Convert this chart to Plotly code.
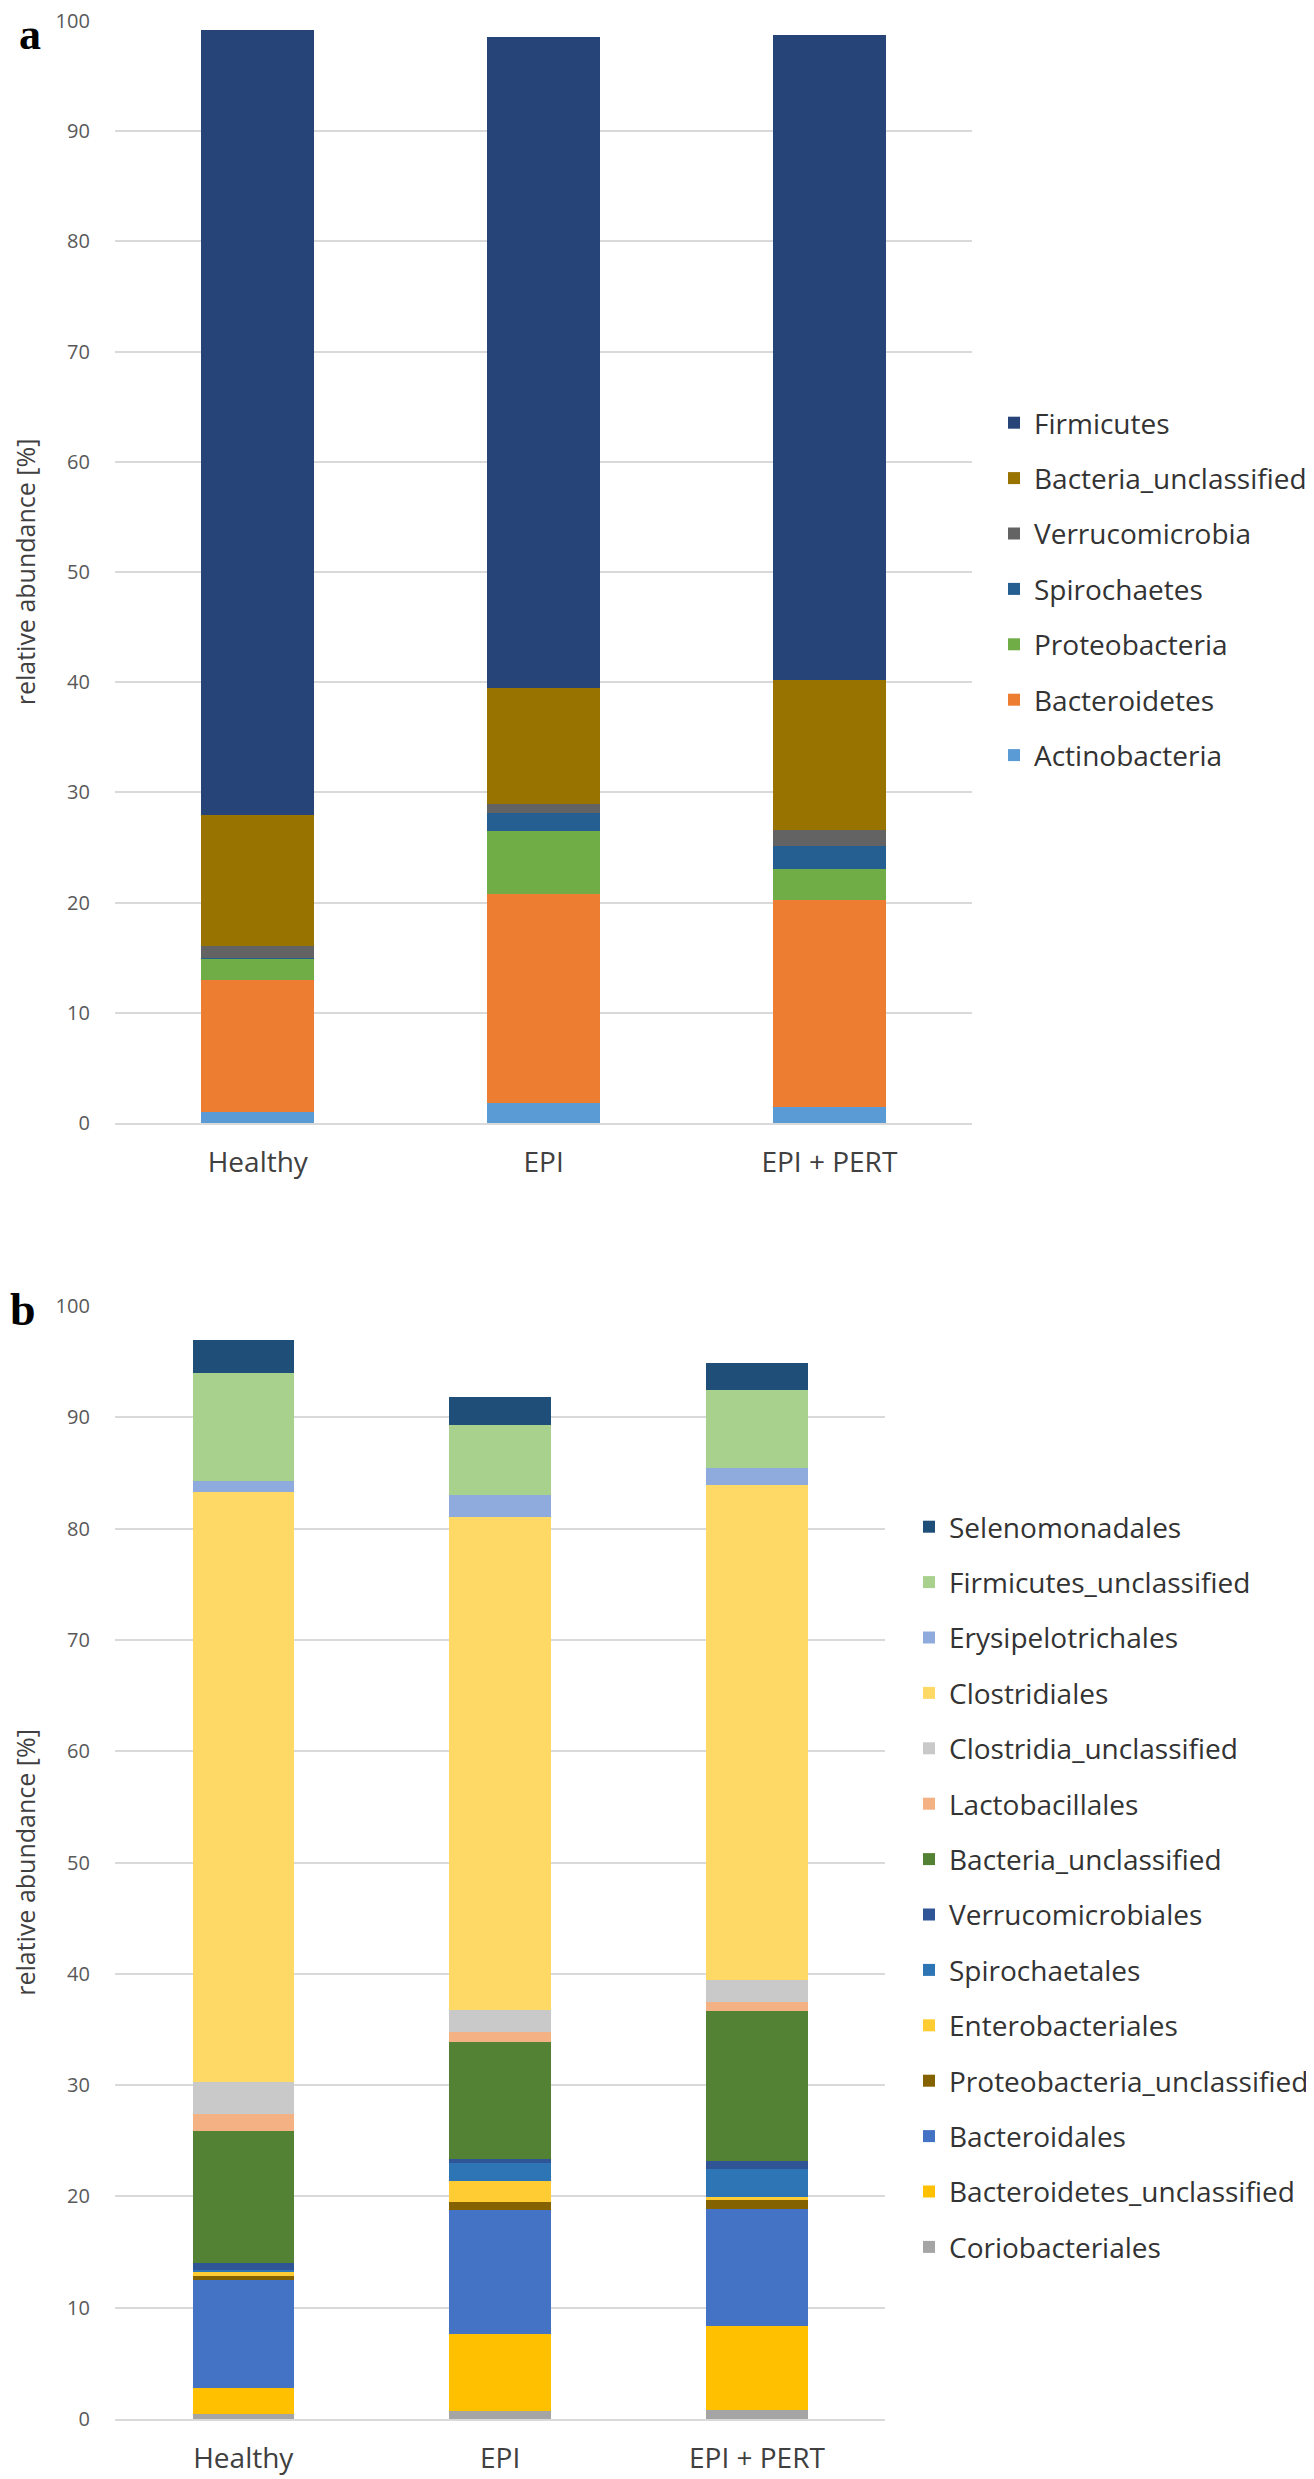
import plotly.graph_objects as go
from plotly.subplots import make_subplots

# --- data (relative abundance, %) ---
groups = ["Healthy", "EPI", "EPI + PERT"]

# panel a: phylum level, stacked bottom -> top
phylum_names = ["Actinobacteria", "Bacteroidetes", "Proteobacteria", "Spirochaetes",
                "Verrucomicrobia", "Bacteria_unclassified", "Firmicutes"]
actinobacteria = [0.99, 1.82, 1.46]
bacteroidetes = [11.95, 18.99, 18.78]
proteobacteria = [1.97, 5.72, 2.79]
spirochaetes = [0.10, 1.62, 2.15]
verrucomicrobia = [1.07, 0.81, 1.42]
bacteria_unclassified = [11.86, 10.49, 13.57]
firmicutes = [71.20, 59.10, 58.58]
phylum_colors = ["#5B9BD5", "#ED7D31", "#70AD47", "#255E91",
                 "#636363", "#997300", "#264478"]

# panel b: order level, stacked bottom -> top
order_names = ["Coriobacteriales", "Bacteroidetes_unclassified", "Bacteroidales",
               "Proteobacteria_unclassified", "Enterobacteriales", "Spirochaetales",
               "Verrucomicrobiales", "Bacteria_unclassified", "Lactobacillales",
               "Clostridia_unclassified", "Clostridiales", "Erysipelotrichales",
               "Firmicutes_unclassified", "Selenomonadales"]
coriobacteriales = [0.46, 0.70, 0.85]
bacteroidetes_unclassified = [2.37, 6.96, 7.51]
bacteroidales = [9.63, 11.12, 10.48]
proteobacteria_unclassified = [0.40, 0.76, 0.80]
enterobacteriales = [0.36, 1.86, 0.33]
spirochaetales = [0.20, 1.64, 2.46]
verrucomicrobiales = [0.56, 0.30, 0.73]
bacteria_unclassified_b = [11.89, 10.49, 13.53]
lactobacillales = [1.49, 0.97, 0.79]
clostridia_unclassified = [2.91, 1.98, 1.97]
clostridiales = [53.05, 44.22, 44.47]
erysipelotrichales = [0.93, 1.99, 1.56]
firmicutes_unclassified = [9.73, 6.35, 6.98]
selenomonadales = [2.97, 2.46, 2.45]
order_colors = ["#A5A5A5", "#FFC000", "#4472C4", "#846200", "#FFCC33", "#2E75B6",
                "#2F5597", "#548235", "#F4B183", "#C9C9C9", "#FFD966", "#8FAADC",
                "#A9D18E", "#1F4E79"]

phylum_values = [actinobacteria, bacteroidetes, proteobacteria, spirochaetes,
                 verrucomicrobia, bacteria_unclassified, firmicutes]
order_values = [coriobacteriales, bacteroidetes_unclassified, bacteroidales,
                proteobacteria_unclassified, enterobacteriales, spirochaetales,
                verrucomicrobiales, bacteria_unclassified_b, lactobacillales,
                clostridia_unclassified, clostridiales, erysipelotrichales,
                firmicutes_unclassified, selenomonadales]

# page body has a default 8px margin -> figure sits 8px in from the window corner
OFF = 8
W, H = 1314 - OFF, 2479 - OFF
FONT = "'Open Sans', sans-serif"

def px_x(p):
    # window pixel -> paper fraction
    return (p - OFF) / W

def px_y(p):
    return 1 - (p - OFF) / H

fig = make_subplots(rows=2, cols=1)

# legend lists the top of the stack first -> rank in reverse of stacking order
n = len(phylum_names)
for i, (name, vals, col) in enumerate(zip(phylum_names, phylum_values, phylum_colors)):
    fig.add_trace(go.Bar(x=groups, y=vals, name=name, marker=dict(color=col, line_width=0),
                         legend="legend", legendgroup=f"a{i}", legendrank=n - i), row=1, col=1)

n = len(order_names)
for i, (name, vals, col) in enumerate(zip(order_names, order_values, order_colors)):
    fig.add_trace(go.Bar(x=groups, y=vals, name=name, marker=dict(color=col, line_width=0),
                         legend="legend2", legendgroup=f"b{i}", legendrank=n - i), row=2, col=1)

yaxis_style = dict(range=[0, 100], tickvals=list(range(0, 101, 10)), showgrid=True,
                   gridcolor="#D9D9D9", gridwidth=1.5, zeroline=False, showline=False,
                   ticks="outside", ticklen=20, tickcolor="rgba(0,0,0,0)", automargin=False,
                   ticklabeloverflow="allow",
                   tickfont=dict(size=20, color="#595959", family=FONT),
                   title=dict(text="relative abundance [%]", standoff=20,
                              font=dict(size=25, color="#404040", family=FONT)))
xaxis_style = dict(showgrid=False, showline=True, linecolor="#D9D9D9", linewidth=1.5,
                   ticks="outside", ticklen=14, tickcolor="rgba(0,0,0,0)", automargin=False,
                   tickfont=dict(size=28, color="#404040", family=FONT))

fig.update_layout(
    xaxis=dict(domain=[px_x(115), px_x(973)], **xaxis_style),
    yaxis=dict(domain=[px_y(1123), px_y(21)], **yaxis_style),
    xaxis2=dict(domain=[px_x(115), px_x(886)], **xaxis_style),
    yaxis2=dict(domain=[px_y(2419), px_y(1306)], **yaxis_style),
)

legend_style = dict(font=dict(size=28, color="#333333", family=FONT), bgcolor="rgba(0,0,0,0)",
                    traceorder="grouped", tracegroupgap=16,
                    xanchor="left", yanchor="top")

fig.update_layout(
    width=W, height=H, barmode="stack", bargap=0.605,
    plot_bgcolor="white", paper_bgcolor="white",
    margin=dict(l=0, r=0, t=0, b=0),
    legend=dict(x=px_x(994), y=px_y(398), **legend_style),
    legend2=dict(x=px_x(910), y=px_y(1502), **legend_style),
    annotations=[
        dict(text="<b>a</b>", x=px_x(17), y=1, xref="paper", yref="paper",
             showarrow=False, xanchor="left", yanchor="top",
             font=dict(size=44, color="black", family="Liberation Serif, serif")),
        dict(text="<b>b</b>", x=px_x(8), y=px_y(1309), xref="paper", yref="paper",
             showarrow=False, xanchor="left", yanchor="middle",
             font=dict(size=46, color="black", family="Liberation Serif, serif")),
    ],
)

fig.write_html("out.html")
